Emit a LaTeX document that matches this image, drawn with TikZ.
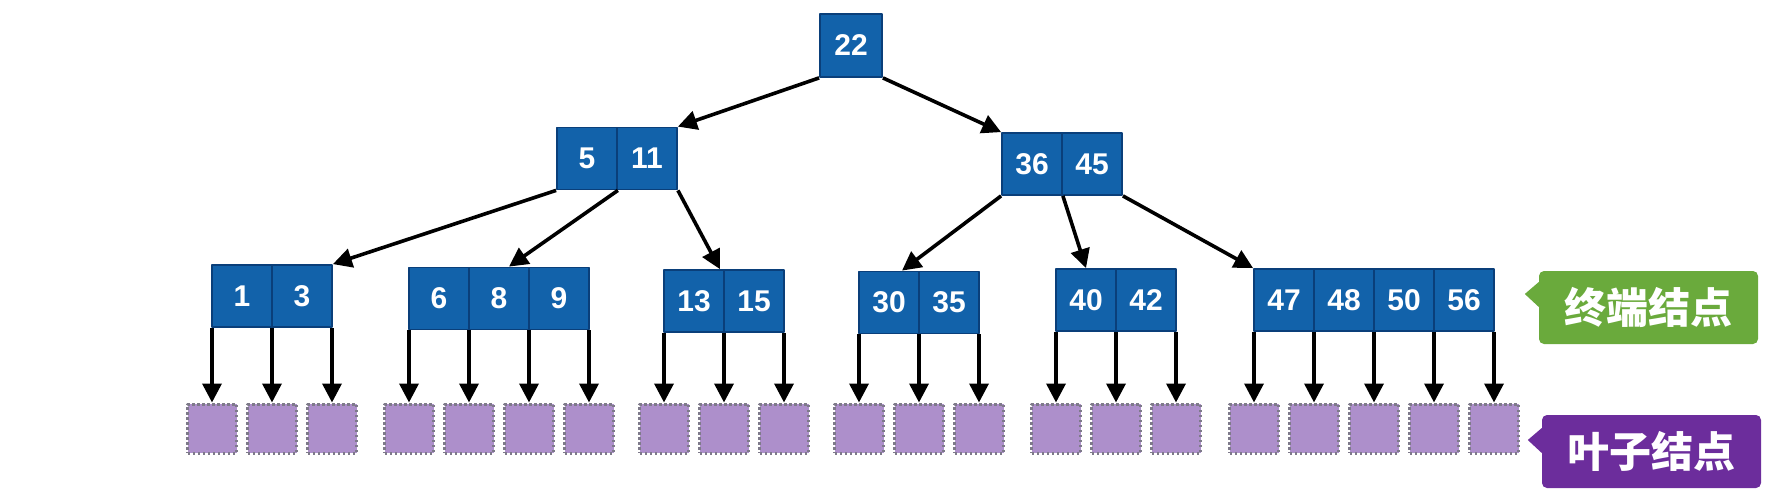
\documentclass[tikz,border=0pt]{standalone}
\usepackage{fontspec}
\newfontfamily\numfont{Liberation Sans}
\newfontfamily\cjk{Noto Sans CJK SC}
\usetikzlibrary{arrows.meta}
\definecolor{keyblue}{HTML}{1262AA}
\definecolor{keyedge}{HTML}{0A3F7A}
\definecolor{leafpurple}{HTML}{AD8FCB}
\definecolor{leafedge}{HTML}{7E7A8A}
\definecolor{termgreen}{HTML}{6AAA3C}
\definecolor{tagpurple}{HTML}{6C2D9C}
\begin{document}
\begin{tikzpicture}[x=1pt,y=-1pt,line join=round,>={Triangle[length=19pt,width=19pt]}]
	\tikzset{key/.style={draw=keyedge,line width=1.8pt,fill=keyblue,minimum width=60pt,minimum height=62pt,inner sep=0pt,text=white,font=\numfont\bfseries\fontsize{30}{30}\selectfont},
		leaf/.style={draw=leafedge,fill=leafpurple,line width=3pt,dash pattern=on 2.5pt off 2.5pt,minimum size=49pt,inner sep=0pt},
		tag/.style={rounded corners=5pt,minimum width=219pt,minimum height=73pt,inner sep=0pt,text=white,font=\cjk\bfseries\fontsize{42}{42}\selectfont},
		edge/.style={->,line width=3.6pt}}
	\useasboundingbox (0,0) rectangle (1770,499);
	% root and second level
	\node[key,minimum width=62pt,minimum height=63pt] (r0) at (851,45.5) {22};
	\node[key] (p0) at (587,158.5) {5};
	\node[key] (p1) at (647,158.5) {11};
	\node[key] (q0) at (1032,164) {36};
	\node[key] (q1) at (1092,164) {45};
	% terminal nodes with their leaves
	\foreach \g/\x/\y/\n/\keys in {a/212/296/2/{1,3},b/409/298.5/3/{6,8,9},c/664/301/2/{13,15},d/859/302.5/2/{30,35},e/1056/300/2/{40,42},f/1254/300/4/{47,48,50,56}} {
		\foreach \k [count=\i from 0] in \keys
			\node[key] (\g\i) at ({\x+30+60*\i},\y) {\k};
		\foreach \j in {0,...,\n} {
			\node[leaf] (l\g\j) at ({\x+60*\j},428.5) {};
			\draw[edge] (l\g\j |- \g0.south) -- (l\g\j);
		}
	}
	\draw[edge] (r0.south west) -- (p1.north east);
	\draw[edge] (r0.south east) -- (q0.north west);
	\draw[edge] (p0.south west) -- (a1.north east);
	\draw[edge] (p0.south east) -- ([xshift=10pt]b1.north);
	\draw[edge] (p1.south east) -- ([xshift=-5pt]c0.north east);
	\draw[edge] (q0.south west) -- ([xshift=13pt]d0.north);
	\draw[edge] (q0.south east) -- (e0.north);
	\draw[edge] (q1.south east) -- (f0.north west);
	% labels
	\node[tag,fill=termgreen] (term) at (1648.5,307.5) {终端结点};
	\fill[termgreen] ([yshift=0.5pt]term.west) -- ([xshift=-14pt,yshift=13.5pt]term.west) -- ([yshift=25.5pt]term.west) -- cycle;
	\node[tag,fill=tagpurple] (leafs) at (1651.5,451.5) {叶子结点};
	\fill[tagpurple] ([yshift=-1.5pt]leafs.west) -- ([xshift=-14pt,yshift=11.5pt]leafs.west) -- ([yshift=23.5pt]leafs.west) -- cycle;
\end{tikzpicture}
\end{document}
